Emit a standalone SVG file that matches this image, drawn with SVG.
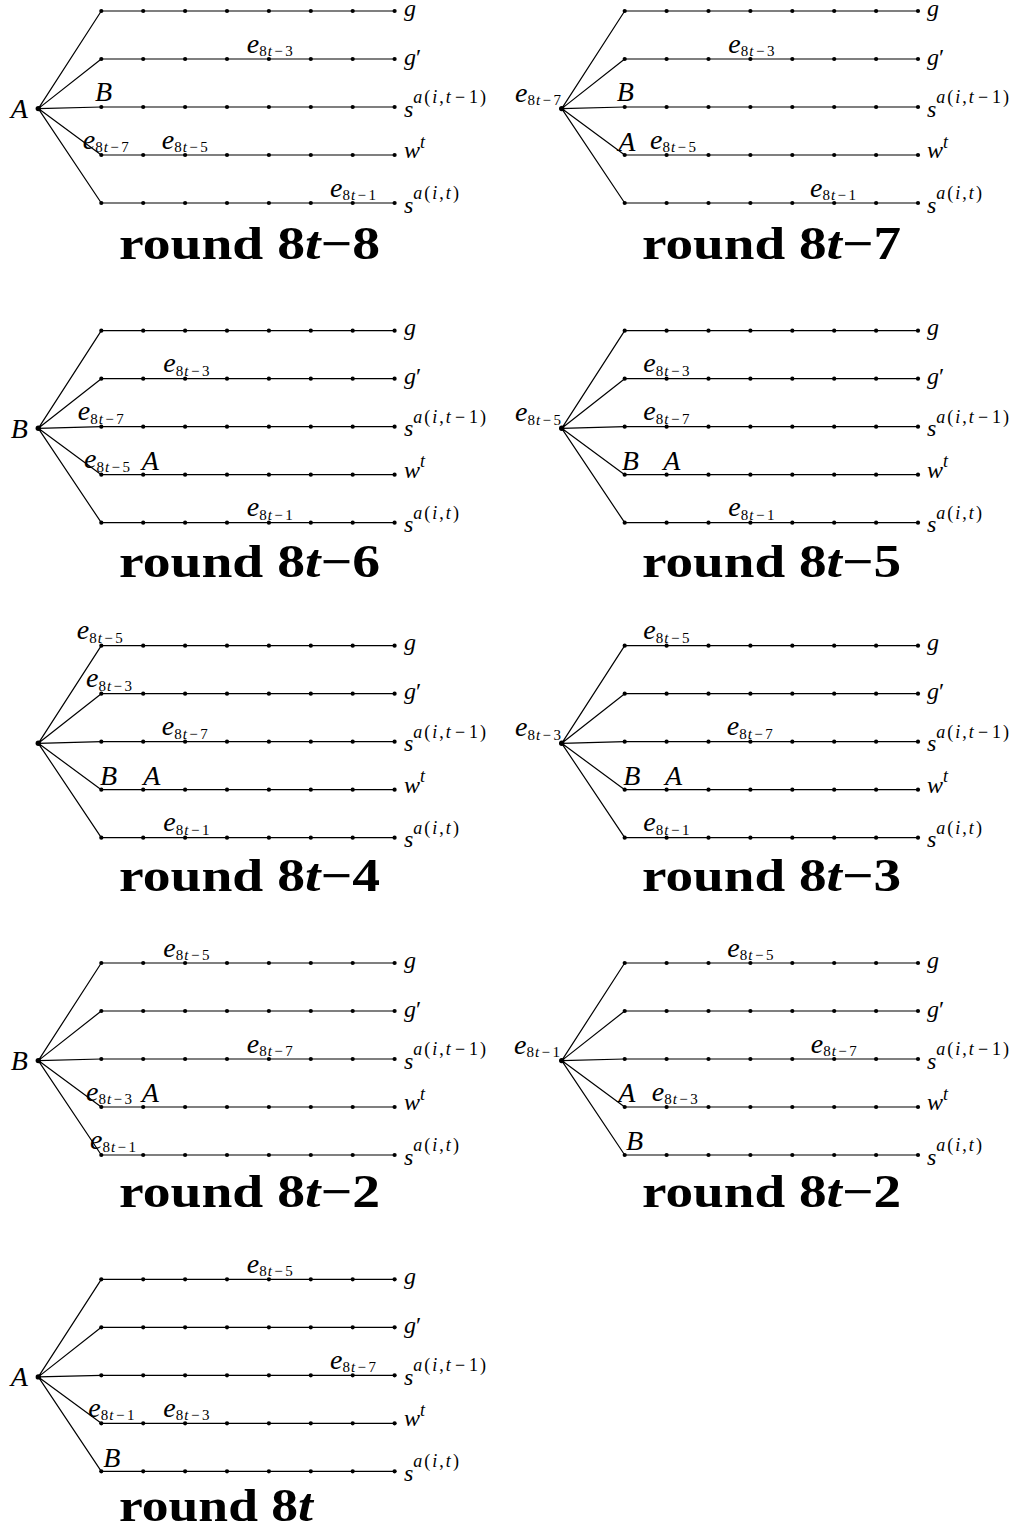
<svg xmlns="http://www.w3.org/2000/svg" xmlns:xlink="http://www.w3.org/1999/xlink" width="1015" height="1530" viewBox="0 0 1015 1530">
<style>
.m{font-family:"Liberation Serif","Times New Roman",serif;fill:#000}
.i{font-style:italic}
.big{font-size:28px}
.lab{font-size:24px}
.sub{font-size:15px;letter-spacing:1px}
.sup{font-size:18px;letter-spacing:2px}
.title{font-family:"Liberation Serif","Times New Roman",serif;font-weight:bold;font-size:46px;fill:#000}
.edge{stroke:#000;stroke-width:1.2;fill:none}
.dot{fill:#000}
</style>
<defs>
<g id="tree">
<g id="tree-connectors" class="edge">
<path d="M-63,97.6L0,0M-63,97.6L0,48M-63,97.6L0,96M-63,97.6L0,144M-63,97.6L0,192"/>
<path d="M0,0H293.3M0,48H293.3M0,96H293.3M0,144H293.3M0,192H293.3"/>
</g>
<g id="tree-nodes" class="dot">
<circle cx="-63" cy="97.6" r="2.7"/>
<g id="row0"><circle cx="0" cy="0" r="2.1"/><circle cx="41.9" cy="0" r="2.1"/><circle cx="83.8" cy="0" r="2.1"/><circle cx="125.7" cy="0" r="2.1"/><circle cx="167.6" cy="0" r="2.1"/><circle cx="209.5" cy="0" r="2.1"/><circle cx="251.4" cy="0" r="2.1"/><circle cx="293.3" cy="0" r="2.1"/></g>
<use href="#row0" y="48"/>
<use href="#row0" y="96"/>
<use href="#row0" y="144"/>
<use href="#row0" y="192"/>
</g>
</g>
</defs>

<g id="panel1">
<use href="#tree" x="101.3" y="11"/>
<text class="m big i" x="10.7" y="118">A</text>
<text class="m big i" x="95" y="100.7">B</text>
<text class="m big" x="246.7" y="52.5"><tspan class="i">e</tspan><tspan class="sub" dy="3.5">8<tspan class="i">t</tspan><tspan dx="1.5">−</tspan><tspan dx="1.5">3</tspan></tspan></text>
<text class="m big" x="82.7" y="148.5"><tspan class="i">e</tspan><tspan class="sub" dy="3.5">8<tspan class="i">t</tspan><tspan dx="1.5">−</tspan><tspan dx="1.5">7</tspan></tspan></text>
<text class="m big" x="161.7" y="148.5"><tspan class="i">e</tspan><tspan class="sub" dy="3.5">8<tspan class="i">t</tspan><tspan dx="1.5">−</tspan><tspan dx="1.5">5</tspan></tspan></text>
<text class="m big" x="330" y="196.5"><tspan class="i">e</tspan><tspan class="sub" dy="3.5">8<tspan class="i">t</tspan><tspan dx="1.5">−</tspan><tspan dx="1.5">1</tspan></tspan></text>
<text class="m lab i" x="404" y="15.5">g</text>
<text class="m lab" x="404" y="64.5"><tspan class="i">g</tspan>′</text>
<text class="m lab" x="404" y="116.5"><tspan class="i">s</tspan><tspan class="sup" dy="-13.5"><tspan class="i">a</tspan>(<tspan class="i">i</tspan>,<tspan class="i">t</tspan><tspan dx="2">−</tspan><tspan dx="2">1</tspan>)</tspan></text>
<text class="m lab" x="404" y="158"><tspan class="i">w</tspan><tspan class="sup i" dy="-10.5">t</tspan></text>
<text class="m lab" x="404" y="212.5"><tspan class="i">s</tspan><tspan class="sup" dy="-13.5"><tspan class="i">a</tspan>(<tspan class="i">i</tspan>,<tspan class="i">t</tspan>)</tspan></text>
<text class="title" x="119" y="259" textLength="261" lengthAdjust="spacingAndGlyphs">round 8<tspan class="i">t</tspan>−8</text>
</g>

<g id="panel2">
<use href="#tree" x="624.7" y="11"/>
<text class="m big" x="515" y="101.6"><tspan class="i">e</tspan><tspan class="sub" dy="3.5">8<tspan class="i">t</tspan><tspan dx="1.5">−</tspan><tspan dx="1.5">7</tspan></tspan></text>
<text class="m big i" x="616.7" y="100.7">B</text>
<text class="m big i" x="618.3" y="150.5">A</text>
<text class="m big" x="650" y="148.5"><tspan class="i">e</tspan><tspan class="sub" dy="3.5">8<tspan class="i">t</tspan><tspan dx="1.5">−</tspan><tspan dx="1.5">5</tspan></tspan></text>
<text class="m big" x="728.3" y="52.5"><tspan class="i">e</tspan><tspan class="sub" dy="3.5">8<tspan class="i">t</tspan><tspan dx="1.5">−</tspan><tspan dx="1.5">3</tspan></tspan></text>
<text class="m big" x="810" y="196.5"><tspan class="i">e</tspan><tspan class="sub" dy="3.5">8<tspan class="i">t</tspan><tspan dx="1.5">−</tspan><tspan dx="1.5">1</tspan></tspan></text>
<text class="m lab i" x="927" y="15.5">g</text>
<text class="m lab" x="927" y="64.5"><tspan class="i">g</tspan>′</text>
<text class="m lab" x="927" y="116.5"><tspan class="i">s</tspan><tspan class="sup" dy="-13.5"><tspan class="i">a</tspan>(<tspan class="i">i</tspan>,<tspan class="i">t</tspan><tspan dx="2">−</tspan><tspan dx="2">1</tspan>)</tspan></text>
<text class="m lab" x="927" y="158"><tspan class="i">w</tspan><tspan class="sup i" dy="-10.5">t</tspan></text>
<text class="m lab" x="927" y="212.5"><tspan class="i">s</tspan><tspan class="sup" dy="-13.5"><tspan class="i">a</tspan>(<tspan class="i">i</tspan>,<tspan class="i">t</tspan>)</tspan></text>
<text class="title" x="642" y="259" textLength="259" lengthAdjust="spacingAndGlyphs">round 8<tspan class="i">t</tspan>−7</text>
</g>

<g id="panel3">
<use href="#tree" x="101.3" y="330.7"/>
<text class="m big i" x="10.7" y="437.8">B</text>
<text class="m big" x="163.3" y="372.2"><tspan class="i">e</tspan><tspan class="sub" dy="3.5">8<tspan class="i">t</tspan><tspan dx="1.5">−</tspan><tspan dx="1.5">3</tspan></tspan></text>
<text class="m big" x="77.7" y="420.2"><tspan class="i">e</tspan><tspan class="sub" dy="3.5">8<tspan class="i">t</tspan><tspan dx="1.5">−</tspan><tspan dx="1.5">7</tspan></tspan></text>
<text class="m big" x="84" y="468.2"><tspan class="i">e</tspan><tspan class="sub" dy="3.5">8<tspan class="i">t</tspan><tspan dx="1.5">−</tspan><tspan dx="1.5">5</tspan></tspan></text>
<text class="m big i" x="141.7" y="470">A</text>
<text class="m big" x="246.7" y="516.2"><tspan class="i">e</tspan><tspan class="sub" dy="3.5">8<tspan class="i">t</tspan><tspan dx="1.5">−</tspan><tspan dx="1.5">1</tspan></tspan></text>
<text class="m lab i" x="404" y="335.2">g</text>
<text class="m lab" x="404" y="384.2"><tspan class="i">g</tspan>′</text>
<text class="m lab" x="404" y="436.2"><tspan class="i">s</tspan><tspan class="sup" dy="-13.5"><tspan class="i">a</tspan>(<tspan class="i">i</tspan>,<tspan class="i">t</tspan><tspan dx="2">−</tspan><tspan dx="2">1</tspan>)</tspan></text>
<text class="m lab" x="404" y="477.7"><tspan class="i">w</tspan><tspan class="sup i" dy="-10.5">t</tspan></text>
<text class="m lab" x="404" y="532.2"><tspan class="i">s</tspan><tspan class="sup" dy="-13.5"><tspan class="i">a</tspan>(<tspan class="i">i</tspan>,<tspan class="i">t</tspan>)</tspan></text>
<text class="title" x="119" y="577" textLength="261" lengthAdjust="spacingAndGlyphs">round 8<tspan class="i">t</tspan>−6</text>
</g>

<g id="panel4">
<use href="#tree" x="624.7" y="330.7"/>
<text class="m big" x="515" y="421.3"><tspan class="i">e</tspan><tspan class="sub" dy="3.5">8<tspan class="i">t</tspan><tspan dx="1.5">−</tspan><tspan dx="1.5">5</tspan></tspan></text>
<text class="m big" x="643.3" y="372.2"><tspan class="i">e</tspan><tspan class="sub" dy="3.5">8<tspan class="i">t</tspan><tspan dx="1.5">−</tspan><tspan dx="1.5">3</tspan></tspan></text>
<text class="m big" x="643.3" y="420.2"><tspan class="i">e</tspan><tspan class="sub" dy="3.5">8<tspan class="i">t</tspan><tspan dx="1.5">−</tspan><tspan dx="1.5">7</tspan></tspan></text>
<text class="m big i" x="621.7" y="469.5">B</text>
<text class="m big i" x="663.3" y="469.5">A</text>
<text class="m big" x="728.3" y="516.2"><tspan class="i">e</tspan><tspan class="sub" dy="3.5">8<tspan class="i">t</tspan><tspan dx="1.5">−</tspan><tspan dx="1.5">1</tspan></tspan></text>
<text class="m lab i" x="927" y="335.2">g</text>
<text class="m lab" x="927" y="384.2"><tspan class="i">g</tspan>′</text>
<text class="m lab" x="927" y="436.2"><tspan class="i">s</tspan><tspan class="sup" dy="-13.5"><tspan class="i">a</tspan>(<tspan class="i">i</tspan>,<tspan class="i">t</tspan><tspan dx="2">−</tspan><tspan dx="2">1</tspan>)</tspan></text>
<text class="m lab" x="927" y="477.7"><tspan class="i">w</tspan><tspan class="sup i" dy="-10.5">t</tspan></text>
<text class="m lab" x="927" y="532.2"><tspan class="i">s</tspan><tspan class="sup" dy="-13.5"><tspan class="i">a</tspan>(<tspan class="i">i</tspan>,<tspan class="i">t</tspan>)</tspan></text>
<text class="title" x="642" y="577" textLength="259" lengthAdjust="spacingAndGlyphs">round 8<tspan class="i">t</tspan>−5</text>
</g>

<g id="panel5">
<use href="#tree" x="101.3" y="645.7"/>
<text class="m big" x="76.7" y="639.2"><tspan class="i">e</tspan><tspan class="sub" dy="3.5">8<tspan class="i">t</tspan><tspan dx="1.5">−</tspan><tspan dx="1.5">5</tspan></tspan></text>
<text class="m big" x="86" y="687.2"><tspan class="i">e</tspan><tspan class="sub" dy="3.5">8<tspan class="i">t</tspan><tspan dx="1.5">−</tspan><tspan dx="1.5">3</tspan></tspan></text>
<text class="m big" x="161.7" y="735.2"><tspan class="i">e</tspan><tspan class="sub" dy="3.5">8<tspan class="i">t</tspan><tspan dx="1.5">−</tspan><tspan dx="1.5">7</tspan></tspan></text>
<text class="m big i" x="100" y="784.5">B</text>
<text class="m big i" x="143.3" y="784.5">A</text>
<text class="m big" x="163.3" y="831.2"><tspan class="i">e</tspan><tspan class="sub" dy="3.5">8<tspan class="i">t</tspan><tspan dx="1.5">−</tspan><tspan dx="1.5">1</tspan></tspan></text>
<text class="m lab i" x="404" y="650.2">g</text>
<text class="m lab" x="404" y="699.2"><tspan class="i">g</tspan>′</text>
<text class="m lab" x="404" y="751.2"><tspan class="i">s</tspan><tspan class="sup" dy="-13.5"><tspan class="i">a</tspan>(<tspan class="i">i</tspan>,<tspan class="i">t</tspan><tspan dx="2">−</tspan><tspan dx="2">1</tspan>)</tspan></text>
<text class="m lab" x="404" y="792.7"><tspan class="i">w</tspan><tspan class="sup i" dy="-10.5">t</tspan></text>
<text class="m lab" x="404" y="847.2"><tspan class="i">s</tspan><tspan class="sup" dy="-13.5"><tspan class="i">a</tspan>(<tspan class="i">i</tspan>,<tspan class="i">t</tspan>)</tspan></text>
<text class="title" x="119" y="891" textLength="261" lengthAdjust="spacingAndGlyphs">round 8<tspan class="i">t</tspan>−4</text>
</g>

<g id="panel6">
<use href="#tree" x="624.7" y="645.7"/>
<text class="m big" x="515" y="736.3"><tspan class="i">e</tspan><tspan class="sub" dy="3.5">8<tspan class="i">t</tspan><tspan dx="1.5">−</tspan><tspan dx="1.5">3</tspan></tspan></text>
<text class="m big" x="643.3" y="639.2"><tspan class="i">e</tspan><tspan class="sub" dy="3.5">8<tspan class="i">t</tspan><tspan dx="1.5">−</tspan><tspan dx="1.5">5</tspan></tspan></text>
<text class="m big" x="726.7" y="735.2"><tspan class="i">e</tspan><tspan class="sub" dy="3.5">8<tspan class="i">t</tspan><tspan dx="1.5">−</tspan><tspan dx="1.5">7</tspan></tspan></text>
<text class="m big i" x="623.3" y="784.5">B</text>
<text class="m big i" x="665" y="784.5">A</text>
<text class="m big" x="643.3" y="831.2"><tspan class="i">e</tspan><tspan class="sub" dy="3.5">8<tspan class="i">t</tspan><tspan dx="1.5">−</tspan><tspan dx="1.5">1</tspan></tspan></text>
<text class="m lab i" x="927" y="650.2">g</text>
<text class="m lab" x="927" y="699.2"><tspan class="i">g</tspan>′</text>
<text class="m lab" x="927" y="751.2"><tspan class="i">s</tspan><tspan class="sup" dy="-13.5"><tspan class="i">a</tspan>(<tspan class="i">i</tspan>,<tspan class="i">t</tspan><tspan dx="2">−</tspan><tspan dx="2">1</tspan>)</tspan></text>
<text class="m lab" x="927" y="792.7"><tspan class="i">w</tspan><tspan class="sup i" dy="-10.5">t</tspan></text>
<text class="m lab" x="927" y="847.2"><tspan class="i">s</tspan><tspan class="sup" dy="-13.5"><tspan class="i">a</tspan>(<tspan class="i">i</tspan>,<tspan class="i">t</tspan>)</tspan></text>
<text class="title" x="642" y="891" textLength="259" lengthAdjust="spacingAndGlyphs">round 8<tspan class="i">t</tspan>−3</text>
</g>

<g id="panel7">
<use href="#tree" x="101.3" y="963"/>
<text class="m big i" x="10.7" y="1070">B</text>
<text class="m big" x="163.3" y="956.5"><tspan class="i">e</tspan><tspan class="sub" dy="3.5">8<tspan class="i">t</tspan><tspan dx="1.5">−</tspan><tspan dx="1.5">5</tspan></tspan></text>
<text class="m big" x="246.7" y="1052.5"><tspan class="i">e</tspan><tspan class="sub" dy="3.5">8<tspan class="i">t</tspan><tspan dx="1.5">−</tspan><tspan dx="1.5">7</tspan></tspan></text>
<text class="m big" x="86" y="1100.5"><tspan class="i">e</tspan><tspan class="sub" dy="3.5">8<tspan class="i">t</tspan><tspan dx="1.5">−</tspan><tspan dx="1.5">3</tspan></tspan></text>
<text class="m big i" x="141.7" y="1102">A</text>
<text class="m big" x="90" y="1148.5"><tspan class="i">e</tspan><tspan class="sub" dy="3.5">8<tspan class="i">t</tspan><tspan dx="1.5">−</tspan><tspan dx="1.5">1</tspan></tspan></text>
<text class="m lab i" x="404" y="967.5">g</text>
<text class="m lab" x="404" y="1016.5"><tspan class="i">g</tspan>′</text>
<text class="m lab" x="404" y="1068.5"><tspan class="i">s</tspan><tspan class="sup" dy="-13.5"><tspan class="i">a</tspan>(<tspan class="i">i</tspan>,<tspan class="i">t</tspan><tspan dx="2">−</tspan><tspan dx="2">1</tspan>)</tspan></text>
<text class="m lab" x="404" y="1110"><tspan class="i">w</tspan><tspan class="sup i" dy="-10.5">t</tspan></text>
<text class="m lab" x="404" y="1164.5"><tspan class="i">s</tspan><tspan class="sup" dy="-13.5"><tspan class="i">a</tspan>(<tspan class="i">i</tspan>,<tspan class="i">t</tspan>)</tspan></text>
<text class="title" x="119" y="1207" textLength="261" lengthAdjust="spacingAndGlyphs">round 8<tspan class="i">t</tspan>−2</text>
</g>

<g id="panel8">
<use href="#tree" x="624.7" y="963"/>
<text class="m big" x="514" y="1053.6"><tspan class="i">e</tspan><tspan class="sub" dy="3.5">8<tspan class="i">t</tspan><tspan dx="1.5">−</tspan><tspan dx="1.5">1</tspan></tspan></text>
<text class="m big" x="727.3" y="956.5"><tspan class="i">e</tspan><tspan class="sub" dy="3.5">8<tspan class="i">t</tspan><tspan dx="1.5">−</tspan><tspan dx="1.5">5</tspan></tspan></text>
<text class="m big" x="810.7" y="1052.5"><tspan class="i">e</tspan><tspan class="sub" dy="3.5">8<tspan class="i">t</tspan><tspan dx="1.5">−</tspan><tspan dx="1.5">7</tspan></tspan></text>
<text class="m big i" x="618.3" y="1101.7">A</text>
<text class="m big" x="651.7" y="1100.5"><tspan class="i">e</tspan><tspan class="sub" dy="3.5">8<tspan class="i">t</tspan><tspan dx="1.5">−</tspan><tspan dx="1.5">3</tspan></tspan></text>
<text class="m big i" x="626" y="1150">B</text>
<text class="m lab i" x="927" y="967.5">g</text>
<text class="m lab" x="927" y="1016.5"><tspan class="i">g</tspan>′</text>
<text class="m lab" x="927" y="1068.5"><tspan class="i">s</tspan><tspan class="sup" dy="-13.5"><tspan class="i">a</tspan>(<tspan class="i">i</tspan>,<tspan class="i">t</tspan><tspan dx="2">−</tspan><tspan dx="2">1</tspan>)</tspan></text>
<text class="m lab" x="927" y="1110"><tspan class="i">w</tspan><tspan class="sup i" dy="-10.5">t</tspan></text>
<text class="m lab" x="927" y="1164.5"><tspan class="i">s</tspan><tspan class="sup" dy="-13.5"><tspan class="i">a</tspan>(<tspan class="i">i</tspan>,<tspan class="i">t</tspan>)</tspan></text>
<text class="title" x="642" y="1207" textLength="259" lengthAdjust="spacingAndGlyphs">round 8<tspan class="i">t</tspan>−2</text>
</g>

<g id="panel9">
<use href="#tree" x="101.3" y="1279.3"/>
<text class="m big i" x="10.7" y="1386.4">A</text>
<text class="m big" x="246.7" y="1272.8"><tspan class="i">e</tspan><tspan class="sub" dy="3.5">8<tspan class="i">t</tspan><tspan dx="1.5">−</tspan><tspan dx="1.5">5</tspan></tspan></text>
<text class="m big" x="330" y="1368.8"><tspan class="i">e</tspan><tspan class="sub" dy="3.5">8<tspan class="i">t</tspan><tspan dx="1.5">−</tspan><tspan dx="1.5">7</tspan></tspan></text>
<text class="m big" x="88.3" y="1416.8"><tspan class="i">e</tspan><tspan class="sub" dy="3.5">8<tspan class="i">t</tspan><tspan dx="1.5">−</tspan><tspan dx="1.5">1</tspan></tspan></text>
<text class="m big" x="163.3" y="1416.8"><tspan class="i">e</tspan><tspan class="sub" dy="3.5">8<tspan class="i">t</tspan><tspan dx="1.5">−</tspan><tspan dx="1.5">3</tspan></tspan></text>
<text class="m big i" x="103.3" y="1466.7">B</text>
<text class="m lab i" x="404" y="1283.8">g</text>
<text class="m lab" x="404" y="1332.8"><tspan class="i">g</tspan>′</text>
<text class="m lab" x="404" y="1384.8"><tspan class="i">s</tspan><tspan class="sup" dy="-13.5"><tspan class="i">a</tspan>(<tspan class="i">i</tspan>,<tspan class="i">t</tspan><tspan dx="2">−</tspan><tspan dx="2">1</tspan>)</tspan></text>
<text class="m lab" x="404" y="1426.3"><tspan class="i">w</tspan><tspan class="sup i" dy="-10.5">t</tspan></text>
<text class="m lab" x="404" y="1480.8"><tspan class="i">s</tspan><tspan class="sup" dy="-13.5"><tspan class="i">a</tspan>(<tspan class="i">i</tspan>,<tspan class="i">t</tspan>)</tspan></text>
<text class="title" x="119" y="1521" textLength="194" lengthAdjust="spacingAndGlyphs">round 8<tspan class="i">t</tspan></text>
</g>
</svg>
